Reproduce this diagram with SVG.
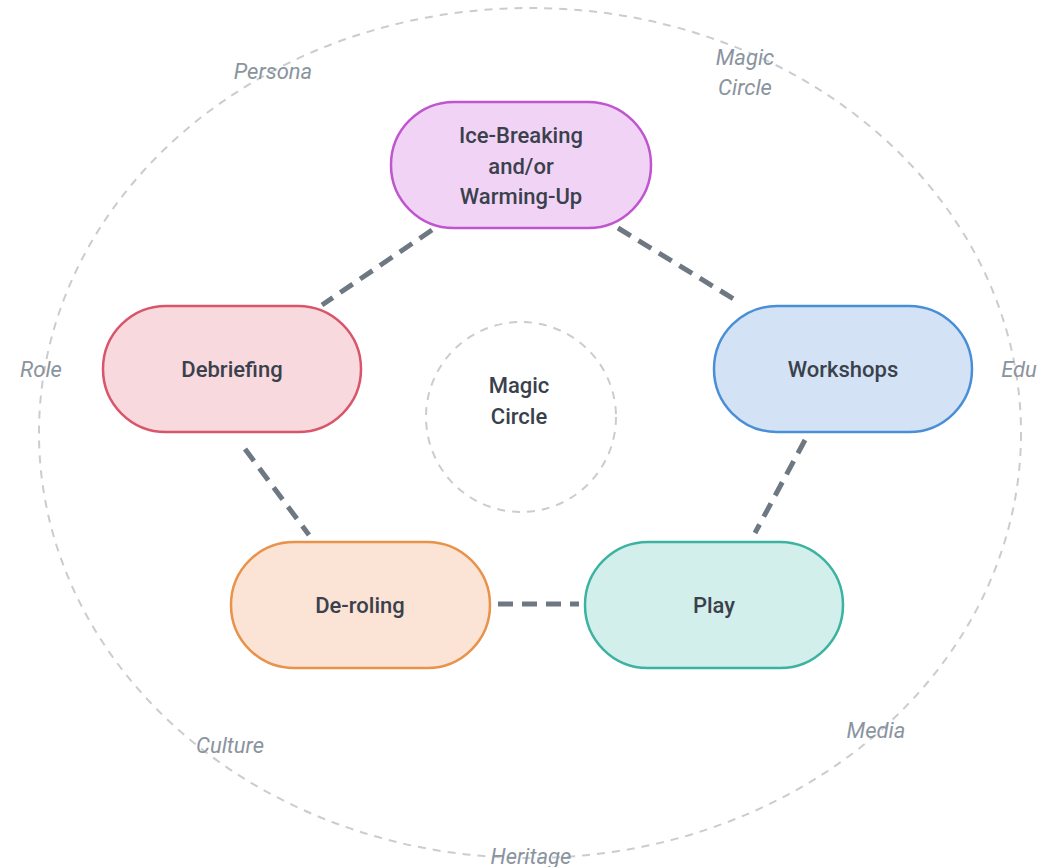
<svg xmlns="http://www.w3.org/2000/svg" width="1053" height="867" viewBox="0 0 1053 867">
<style>
.node text{font-family:Roboto,"Liberation Sans",sans-serif;font-size:22px;font-weight:500;fill:#3a414c;text-anchor:middle}
.node rect{stroke-width:2.5}
.lbl{font-family:Roboto,"Liberation Sans",sans-serif;font-size:22px;font-style:italic;fill:#8a949e;text-anchor:middle}
.edge{stroke:#6e7883;stroke-width:5;stroke-dasharray:15 9;fill:none}
.ring{fill:none;stroke:#c9cdd1;stroke-width:2;stroke-dasharray:8 7}
</style>
<rect width="1053" height="867" fill="#ffffff"/>
<g id="outer-ring">
<ellipse class="ring" cx="530" cy="433" rx="491" ry="425"/>
</g>
<g id="ring-labels">
<text class="lbl" x="273" y="79">Persona</text>
<text class="lbl" x="745" y="65">Magic</text>
<text class="lbl" x="745" y="95">Circle</text>
<text class="lbl" x="41" y="377">Role</text>
<text class="lbl" x="1019" y="377">Edu</text>
<text class="lbl" x="230" y="753">Culture</text>
<text class="lbl" x="876" y="738">Media</text>
<text class="lbl" x="531" y="864">Heritage</text>
</g>
<g id="magic-circle" class="node">
<circle class="ring" cx="521" cy="417" r="95"/>
<text x="519" y="393">Magic</text>
<text x="519" y="424">Circle</text>
</g>
<g id="connectors">
<line class="edge" x1="432" y1="230" x2="322" y2="305"/>
<line class="edge" x1="618" y1="228" x2="737" y2="301"/>
<line class="edge" x1="245" y1="449" x2="309" y2="535"/>
<line class="edge" x1="805" y1="440" x2="755" y2="533"/>
<line class="edge" x1="498" y1="604" x2="579" y2="604"/>
</g>
<g id="ice-breaking" class="node">
<rect x="391" y="102" width="260" height="126" rx="63" fill="#f1d4f5" stroke="#c055d0"/>
<text x="521" y="143">Ice-Breaking</text>
<text x="521" y="174">and/or</text>
<text x="521" y="204">Warming-Up</text>
</g>
<g id="debriefing" class="node">
<rect x="103" y="306" width="258" height="126" rx="63" fill="#f8d9de" stroke="#d9566a"/>
<text x="232" y="377">Debriefing</text>
</g>
<g id="workshops" class="node">
<rect x="714" y="306" width="258" height="126" rx="63" fill="#d3e3f5" stroke="#4a8fd6"/>
<text x="843" y="377">Workshops</text>
</g>
<g id="de-roling" class="node">
<rect x="231" y="542" width="259" height="126" rx="63" fill="#fbe3d5" stroke="#e8924a"/>
<text x="360" y="613">De-roling</text>
</g>
<g id="play" class="node">
<rect x="585" y="542" width="258" height="126" rx="63" fill="#d3efec" stroke="#3bb3a0"/>
<text x="714" y="613">Play</text>
</g>
</svg>
